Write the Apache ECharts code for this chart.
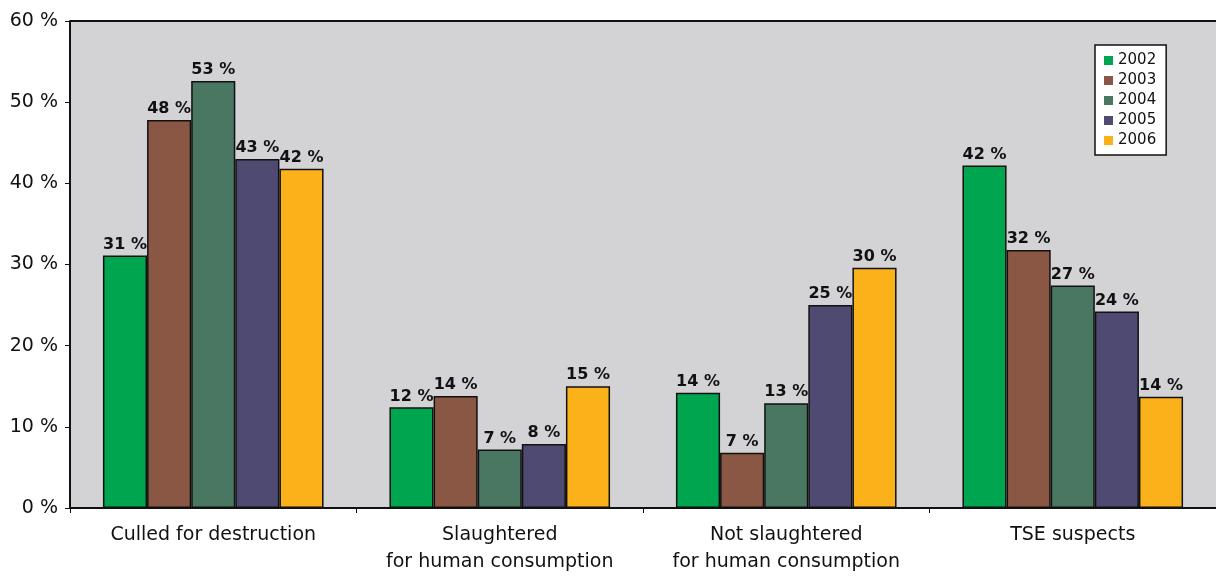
<!DOCTYPE html>
<html>
<head>
<meta charset="utf-8">
<script src="https://cdn.jsdelivr.net/npm/echarts@6/dist/echarts.min.js"></script>
<style>
    html, body {margin: 0; padding: 0; background: #fff;}
    #chart {width: 1216px; height: 578px;}
</style>
</head>
<body>
<div id="chart"></div>
<script>
var categories = ['Culled for destruction', 'Slaughtered\nfor human consumption',
                  'Not slaughtered\nfor human consumption', 'TSE suspects'];
var years = ['2002', '2003', '2004', '2005', '2006'];
var colors = ['#00A550', '#8B5745', '#4A7761', '#4F4A72', '#FBB21A'];
var v2002 = [31.1, 12.4, 14.2, 42.2];
var v2003 = [47.8, 13.8, 6.8, 31.8];
var v2004 = [52.6, 7.2, 12.9, 27.4];
var v2005 = [43.0, 7.9, 25.0, 24.2];
var v2006 = [41.8, 15.0, 29.6, 13.7];
var yTicks = [0, 10, 20, 30, 40, 50, 60];

var values = [v2002, v2003, v2004, v2005, v2006];
var font = 'DejaVu Sans';

var chart = echarts.init(document.getElementById('chart'));

var series = [];
for (var i = 0; i < years.length; i++) {
    series.push({
        name: years[i],
        type: 'bar',
        data: values[i],
        barGap: 0,
        barCategoryGap: '23%',
        itemStyle: {color: colors[i], borderColor: '#111', borderWidth: 1.5},
        label: {
            show: true,
            position: 'top',
            distance: 3,
            color: '#111',
            fontFamily: font,
            fontWeight: 'bold',
            fontSize: 16,
            formatter: function (p) {
                return Math.round(p.value) + ' %';
            }
        }
    });
}

chart.setOption({
    animation: false,
    color: colors,
    grid: {left: 70, right: -2, top: 21, bottom: 70, backgroundColor: '#D3D3D5', show: true, borderWidth: 0},
    legend: {
        orient: 'vertical',
        left: 1095,
        top: 45,
        padding: [8, 10, 7, 9],
        itemGap: 5,
        itemWidth: 9,
        itemHeight: 9,
        icon: 'rect',
        itemStyle: {borderWidth: 0},
        backgroundColor: '#fff',
        borderColor: '#111',
        borderWidth: 1.5,
        textStyle: {fontFamily: font, fontSize: 15, color: '#111'},
        data: years
    },
    xAxis: {
        type: 'category',
        data: categories,
        axisLine: {lineStyle: {color: '#111', width: 2}},
        axisTick: {show: true, interval: 0, length: 5, lineStyle: {color: '#111'}},
        axisLabel: {interval: 0, fontFamily: font, fontSize: 19, color: '#111', margin: 14, lineHeight: 27}
    },
    yAxis: {
        type: 'value',
        min: yTicks[0],
        max: yTicks[yTicks.length - 1],
        interval: 10,
        axisLine: {show: true, lineStyle: {color: '#111', width: 2}},
        axisTick: {show: true, length: 5, lineStyle: {color: '#111'}},
        splitLine: {show: false},
        axisLabel: {fontFamily: font, fontSize: 19, color: '#111', margin: 12, formatter: '{value} %'}
    },
    graphic: [{
        type: 'line',
        shape: {x1: 70, y1: 21, x2: 1216, y2: 21},
        style: {stroke: '#111', lineWidth: 2}
    }],
    series: series
});
</script>
</body>
</html>
